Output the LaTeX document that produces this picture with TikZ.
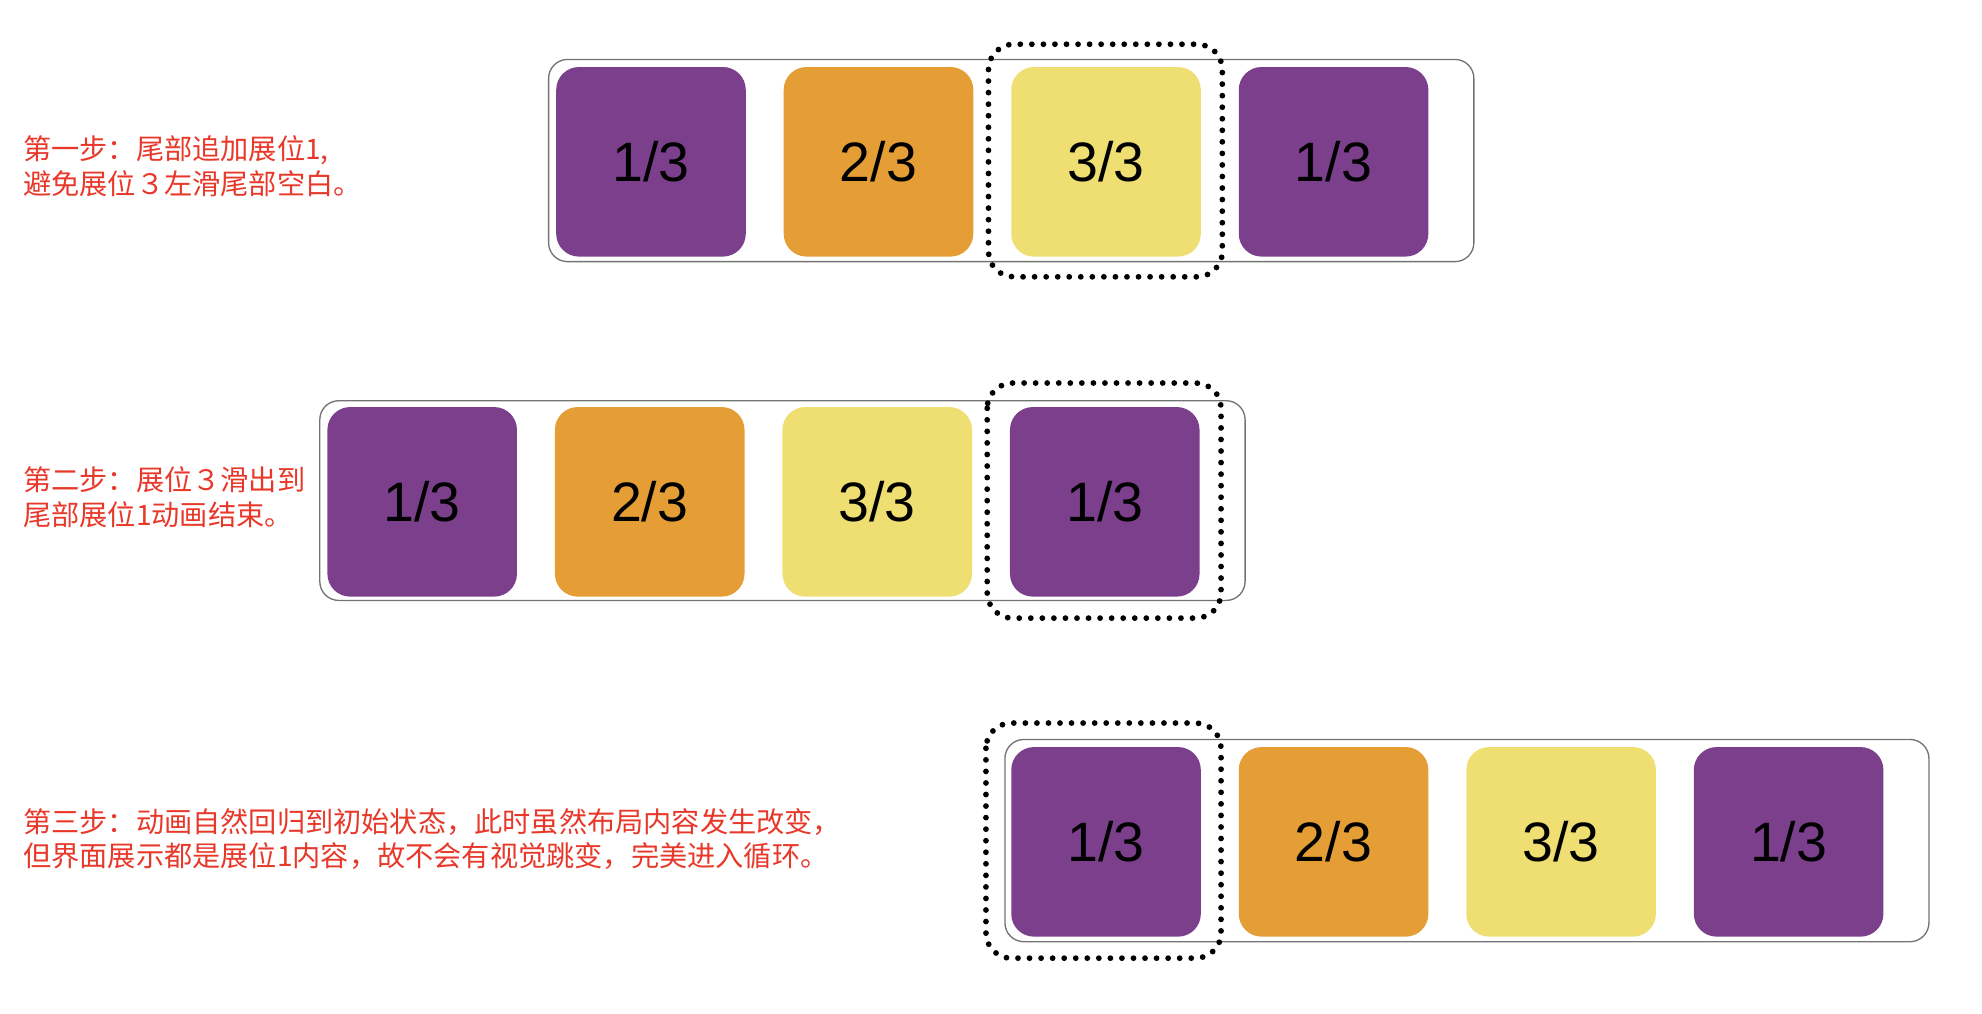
\documentclass[tikz,border=0pt]{standalone}
\usepackage{fontspec}
\setmainfont{Liberation Sans}
\newfontfamily\cjk{Noto Sans CJK SC}
\definecolor{pur}{HTML}{7B3F8C}
\definecolor{ora}{HTML}{E59E36}
\definecolor{yel}{HTML}{EFDE72}
\definecolor{note}{HTML}{E8382A}
\begin{document}
\begin{tikzpicture}[x=0.02cm,y=-0.02cm,
  frame/.style={draw=black!55,line width=0.6pt,rounded corners=0.3cm},
  sq/.style={rounded corners=0.36cm,minimum width=3cm,minimum height=3cm,inner sep=0pt,font=\fontsize{25}{25}\selectfont},
  dot/.style={draw=black,line width=2.6pt,dash pattern=on 0pt off 5.2pt,line cap=round,rounded corners=0.4cm},
  lab/.style={anchor=north west,align=left,text=note,inner sep=0pt,font=\cjk\fontsize{12.7}{15.5}\selectfont}]
\useasboundingbox (0,0) rectangle (1568,802);
% row 1
\draw[frame] (434,47) rectangle (1166,207);
\node[sq,fill=pur] (a1) at (515,128) {1/3};
\node[sq,fill=ora] (a2) at (695,128) {2/3};
\node[sq,fill=yel] (a3) at (875,128) {3/3};
\node[sq,fill=pur] (a4) at (1055,128) {1/3};
\draw[dot] (782,35) rectangle (967,219);
\node[lab] (t1) at (18,107) {第一步：尾部追加展位1,\\避免展位３左滑尾部空白。};
% row 2
\draw[frame] (253,317) rectangle (985,475);
\node[sq,fill=pur] (b1) at (334,397) {1/3};
\node[sq,fill=ora] (b2) at (514,397) {2/3};
\node[sq,fill=yel] (b3) at (694,397) {3/3};
\node[sq,fill=pur] (b4) at (874,397) {1/3};
\draw[dot] (781,303) rectangle (966,489);
\node[lab] (t2) at (18,369) {第二步：展位３滑出到\\尾部展位1动画结束。};
% row 3
\draw[frame] (795,585) rectangle (1526,745);
\node[sq,fill=pur] (c1) at (875,666) {1/3};
\node[sq,fill=ora] (c2) at (1055,666) {2/3};
\node[sq,fill=yel] (c3) at (1235,666) {3/3};
\node[sq,fill=pur] (c4) at (1415,666) {1/3};
\draw[dot] (780,572) rectangle (966,758);
\node[lab] (t3) at (18,639) {第三步：动画自然回归到初始状态，此时虽然布局内容发生改变，\\但界面展示都是展位1内容，故不会有视觉跳变，完美进入循环。};
\end{tikzpicture}
\end{document}
